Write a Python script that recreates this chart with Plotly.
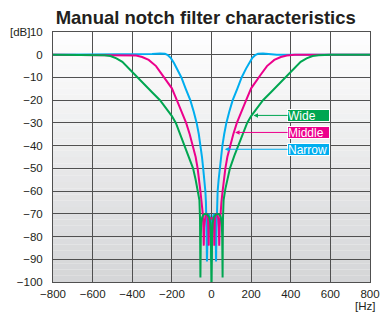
import plotly.graph_objects as go

# ---------------- data ----------------
wide_x = [-800, -600, -540, -510, -480, -450, -420, -380, -340, -300, -260, -230, -200, -180,
          -160, -135, -115, -93, -80, -70, -61, -58, -57, -56, -54, -52, -47, -40, -30, -20,
          -12, -6, -3, 0,
          3, 6, 12, 20, 30, 40, 47, 52, 54, 56, 57, 58, 61, 70, 80, 93, 115, 135, 160, 180,
          200, 230, 260, 300, 340, 380, 420, 450, 480, 510, 540, 600, 800]
wide_y = [0, 0, -0.2, -0.6, -1.6, -3.1, -5.8, -9.7, -13.0, -16.5, -20.0, -23.3, -27.0, -30.0,
          -34.5, -40.0, -44.5, -50.0, -55.0, -59.0, -64.0, -72.0, -80.0, -98.0, -80.0, -74.0,
          -71.5, -70.3, -70.0, -70.5, -71.5, -74.0, -80.0, -105.0,
          -80.0, -74.0, -71.5, -70.5, -70.0, -70.3, -71.5, -74.0, -80.0, -98.0, -80.0, -72.0,
          -64.0, -59.0, -55.0, -50.0, -44.5, -40.0, -34.5, -30.0, -27.0, -23.3, -20.0, -16.5,
          -13.0, -9.7, -5.8, -3.1, -1.6, -0.6, -0.2, 0, 0]

middle_x = [-800, -420, -380, -350, -317, -280, -250, -220, -200, -175, -150, -128, -110, -94,
            -80, -70, -62, -56, -50, -44, -41, -39, -37, -34, -30, -26, -21, -17, -15, -14,
            -13, -10, -5, 0, 5, 10, 13,
            14, 15, 17, 21, 26, 30, 34, 37, 39, 41, 44, 50, 56, 62, 70, 80, 94, 110, 128, 150,
            175, 200, 220, 250, 280, 317, 350, 380, 420, 800]
middle_y = [0, 0, -0.3, -1.0, -2.3, -5.0, -8.6, -12.2, -14.8, -20.0, -25.0, -30.0, -35.0, -40.0,
            -45.0, -50.0, -55.0, -60.0, -65.0, -70.0, -76.0, -84.0, -76.0, -72.0, -70.3, -70.0,
            -70.5, -73.0, -77.0, -84.0, -77.0, -73.0, -72.0, -72.0, -72.0, -73.0, -77.0,
            -84.0, -77.0, -73.0, -70.5, -70.0, -70.3, -72.0, -76.0, -84.0, -76.0, -70.0, -65.0,
            -60.0, -55.0, -50.0, -45.0, -40.0, -35.0, -30.0, -25.0, -20.0, -14.8, -12.2, -8.6,
            -5.0, -2.3, -1.0, -0.3, 0, 0]

narrow_x = [-800, -330, -300, -260, -235, -220, -205, -190, -175, -152, -130, -107, -90, -75,
            -64, -55, -48, -42, -36, -31, -28, -26, -25, -23, -21, -18, -12, -6, -3, 0,
            3, 6, 12, 18, 21, 23, 25, 26, 28, 31, 36, 42, 48, 55, 64, 75, 90, 107, 130, 152,
            175, 190, 205, 220, 235, 260, 300, 330, 800]
narrow_y = [0, 0, 0.3, 0.5, 0.4, -0.2, -1.5, -3.5, -6.0, -10.0, -15.0, -20.0, -25.0, -30.0,
            -35.0, -40.0, -45.0, -50.0, -55.0, -60.0, -65.0, -70.0, -78.0, -91.0, -78.0, -72.0,
            -70.0, -72.0, -78.0, -91.0,
            -78.0, -72.0, -70.0, -72.0, -78.0, -91.0, -78.0, -70.0, -65.0, -60.0, -55.0, -50.0,
            -45.0, -40.0, -35.0, -30.0, -25.0, -20.0, -15.0, -10.0, -6.0, -3.5, -1.5, -0.2, 0.4,
            0.5, 0.3, 0, 0]

x_ticks = [-800, -600, -400, -200, 0, 200, 400, 600, 800]
y_ticks = [10, 0, -10, -20, -30, -40, -50, -60, -70, -80, -90, -100]

labels = ["Wide", "Middle", "Narrow"]
label_tip_x = [212, 119, 67]
label_y = [-26.7, -34.2, -41.6]
label_box_x = 490

GREEN = "#00a651"
PINK = "#ec008c"
BLUE = "#00aeef"
TEXT = "#231f20"
GRID = "#505050"
FONT = "Liberation Sans, Arial, sans-serif"

fig = go.Figure()
fig.add_trace(go.Scatter(x=narrow_x, y=narrow_y, mode="lines",
                         line=dict(color=BLUE, width=2), name="Narrow"))
fig.add_trace(go.Scatter(x=middle_x, y=middle_y, mode="lines",
                         line=dict(color=PINK, width=2), name="Middle"))
fig.add_trace(go.Scatter(x=wide_x, y=wide_y, mode="lines",
                         line=dict(color=GREEN, width=2), name="Wide"))

# background gradient (white at top -> grey at bottom)
n = 40
top_c = (255, 255, 255)
bot_c = (212, 213, 215)
shapes = []
for i in range(n):
    t = (i + 0.5) / n
    c = tuple(round(top_c[k] + (bot_c[k] - top_c[k]) * t) for k in range(3))
    y0 = 10 - 110 * i / n
    y1 = 10 - 110 * (i + 1) / n
    shapes.append(dict(type="rect", xref="paper", yref="y", x0=0, x1=1, y0=y0, y1=y1,
                       fillcolor="rgb(%d,%d,%d)" % c, line=dict(width=0), layer="below"))

colors = [GREEN, PINK, BLUE]
annotations = []
for lab, tx, ly, col in zip(labels, label_tip_x, label_y, colors):
    annotations.append(dict(
        x=tx, y=ly, xref="x", yref="y", ax=label_box_x, ay=ly, axref="x", ayref="y",
        text=lab, showarrow=True, arrowhead=2, arrowsize=0.9, arrowwidth=1,
        arrowcolor=col, standoff=0, startstandoff=0,
        font=dict(family=FONT, size=12, color="white"),
        bgcolor=col, bordercolor="white", borderwidth=1, borderpad=0,
        width=41, height=11, align="left"))

annotations.append(dict(x=(32 - 53) / 317, y=10, xref="paper", yref="y", text="[dB]",
                        showarrow=False, xanchor="right", yanchor="middle",
                        font=dict(family=FONT, size=11.5, color=TEXT)))
annotations.append(dict(x=1.022, y=-0.094, xref="paper", yref="paper", text="[Hz]",
                        showarrow=False, xanchor="right", yanchor="middle",
                        font=dict(family=FONT, size=11.5, color=TEXT)))

fig.update_layout(
    width=381, height=316, autosize=False,
    margin=dict(l=53, r=11, t=32, b=34, autoexpand=False),
    paper_bgcolor="white", plot_bgcolor="white",
    showlegend=False,
    title=dict(text="<b>Manual notch filter characteristics</b>", x=0.54, xanchor="center",
               y=0.946, yanchor="middle",
               font=dict(family=FONT, size=18.5, color=TEXT)),
    shapes=shapes,
    annotations=annotations,
    font=dict(family=FONT, size=12, color=TEXT),
)
fig.update_xaxes(range=[-800, 800], tickvals=x_ticks, showgrid=True, gridcolor=GRID,
                 gridwidth=1, zeroline=False, showline=True, linecolor=GRID, linewidth=1,
                 mirror=True, ticks="outside", ticklen=1, tickcolor="rgba(0,0,0,0)",
                 automargin=False, tickfont=dict(size=11.5, color=TEXT))
fig.update_yaxes(range=[-100, 10], tickvals=y_ticks, showgrid=True, gridcolor=GRID,
                 gridwidth=1, zeroline=False, showline=True, linecolor=GRID, linewidth=1,
                 mirror=True, ticks="outside", ticklen=7, tickcolor="rgba(0,0,0,0)",
                 automargin=False, tickfont=dict(size=11.5, color=TEXT))

fig.write_html(
    "out.html",
    config={"displayModeBar": False},
    post_script="document.body.style.margin='0px';document.body.style.overflow='hidden';",
)
